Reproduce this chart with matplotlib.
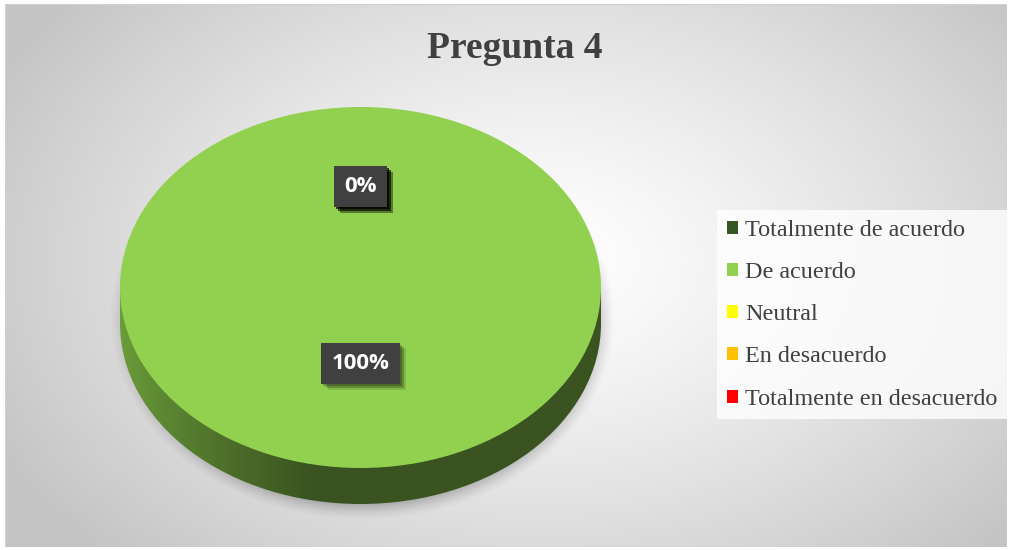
import numpy as np
import matplotlib
matplotlib.use("Agg")
import matplotlib.pyplot as plt
from matplotlib.patches import Rectangle
import matplotlib.patheffects as pe

# ---- data ----
title = "Pregunta 4"
categories = ["Totalmente de acuerdo", "De acuerdo", "Neutral",
              "En desacuerdo", "Totalmente en desacuerdo"]
values = [0, 100, 0, 0, 0]
colors = ["#375623", "#92D050", "#FFFF00", "#FFC000", "#FF0000"]
side_light = ["#2c451c", "#6c9e3a", "#cccc00", "#cc9a00", "#cc0000"]
side_dark = ["#1f3313", "#3a5320", "#999900", "#997300", "#990000"]

W, H = 1010, 550
fig = plt.figure(figsize=(W / 100, H / 100), dpi=100, facecolor="white")

# ---- background (radial gradient) ----
bg = fig.add_axes([5 / W, 3 / H, 1002 / W, 543 / H])
bg.set_xlim(0, W)
bg.set_ylim(H, 0)
bg.axis("off")
yy, xx = np.mgrid[0:H, 0:W]
r = np.sqrt(((xx - 540) / 620.0) ** 2 + ((yy - 260) / 420.0) ** 2)
r = np.clip(r, 0, 1)
g = 1.0 - 0.23 * r ** 1.3
img = np.dstack([g, g, g])
bg.imshow(img, extent=(0, W, H, 0), aspect="auto", zorder=0)
# soft shadow under the pie
rs = np.sqrt(((xx - 360) / 256.0) ** 2 + ((yy - 318) / 205.0) ** 2)
sh_alpha = 0.40 * np.clip((1.0 - rs) / 0.12, 0, 1) ** 1.5
shadow = np.zeros((H, W, 4))
shadow[..., 3] = sh_alpha
bg.imshow(shadow, extent=(0, W, H, 0), aspect="auto", zorder=1)
bg.add_patch(Rectangle((0, 0), W, H, fill=False, ec="#d0d0d0", lw=1.0, zorder=2))

# ---- pie axes ----
top_px, bot_px = 107, 468
ppu = (bot_px - top_px) / 2.0
depth = 36 / ppu
ymin = -1 - depth - 0.1
ax_bottom_px = bot_px + (-1 - ymin) * ppu
ax = fig.add_axes([120 / W, 1 - ax_bottom_px / H, 481 / W, (ax_bottom_px - top_px) / H])
ax.set_facecolor("none")

# side of the 3-D pie
side_wedges, _ = ax.pie(values, center=(0, -depth), radius=1, startangle=90,
                        counterclock=False, colors=colors,
                        wedgeprops=dict(linewidth=0))
for w, v, cl, cd in zip(side_wedges, values, side_light, side_dark):
    w.set_facecolor("none")
    if v <= 0:
        continue
    xs = np.linspace(-1, 1, 400)
    t = np.clip((xs + 1) / 0.8, 0, 1) ** 0.8
    c1 = np.array(matplotlib.colors.to_rgb(cl))
    c2 = np.array(matplotlib.colors.to_rgb(cd))
    row = (1 - t)[:, None] * c1 + t[:, None] * c2
    grad = np.repeat(row[None, :, :], 2, axis=0)
    im1 = ax.imshow(grad, extent=(-1, 1, -1 - depth, 0), aspect="auto", zorder=1)
    im1.set_clip_path(w)
    rect = Rectangle((-1, -depth), 2, depth, fc="none", ec="none")
    ax.add_patch(rect)
    im2 = ax.imshow(grad, extent=(-1, 1, -1 - depth, 0), aspect="auto", zorder=1)
    im2.set_clip_path(rect)

# top face
wedges, _, autotexts = ax.pie(values, radius=1, startangle=90, counterclock=False,
                              colors=colors, autopct="%1.0f%%", pctdistance=0.49,
                              wedgeprops=dict(linewidth=0),
                              textprops=dict(color="white", fontsize=16,
                                             fontweight="bold", family="Open Sans"))
for w in wedges:
    w.set_zorder(2)
for t in autotexts:
    x, y = t.get_position()
    t.set_position((x, y + 0.07))
    t.set_zorder(5)
    t.set_bbox(dict(boxstyle="square,pad=0.46", fc="#404040", ec="none"))
    t.get_bbox_patch().set_path_effects([
        pe.SimplePatchShadow(offset=(1.5, -1.5), shadow_rgbFace="black", alpha=0.25),
        pe.SimplePatchShadow(offset=(3, -3), shadow_rgbFace="black", alpha=0.22),
        pe.SimplePatchShadow(offset=(4.5, -4.5), shadow_rgbFace="black", alpha=0.12),
        pe.Normal()])

ax.set_aspect("auto")
ax.set_xlim(-1, 1)
ax.set_ylim(ymin, 1)
ax.axis("off")

# ---- title ----
fig.text(515 / W, 1 - 48 / H, title, ha="center", va="center",
         fontsize=27, fontweight="bold", family="Liberation Serif", color="#404040")

# ---- legend ----
leg = fig.legend(wedges, categories, loc="upper left",
                 bbox_to_anchor=(717 / W, 1 - 210 / H),
                 prop=dict(family="Liberation Serif", size=17.4),
                 labelcolor="#404040", frameon=True, fancybox=False,
                 handlelength=0.45, handleheight=0.45, handletextpad=0.3,
                 labelspacing=0.88, borderpad=0.4, borderaxespad=0)
leg.get_frame().set_facecolor((1, 1, 1, 0.3))
leg.get_frame().set_edgecolor("none")

fig.savefig("out.png", dpi=100, facecolor="white")
